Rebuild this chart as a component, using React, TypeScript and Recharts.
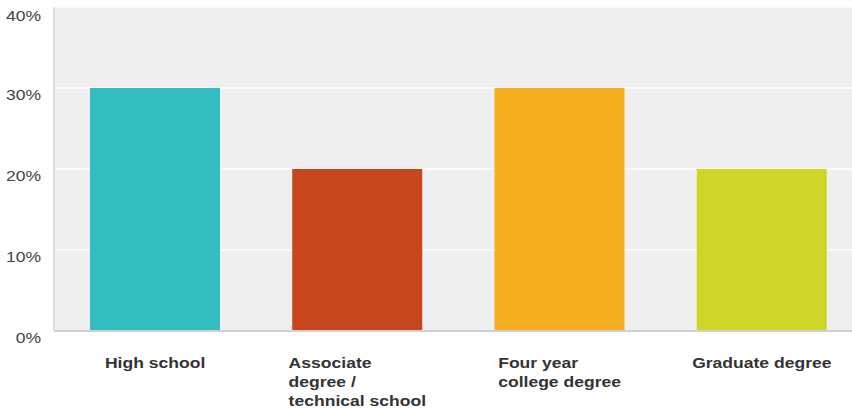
import { BarChart, Bar, Cell, XAxis, YAxis, CartesianGrid } from 'recharts'

const categories = ['High school', 'Associate\ndegree /\ntechnical school', 'Four year\ncollege degree', 'Graduate degree']
const shares = [30, 20, 30, 20]
const yTicks = [0, 10, 20, 30, 40]
const COLORS = ['#33bdbf', '#c8461b', '#f5ae1f', '#cdd627']

const data = categories.map((name, i) => ({ name, value: shares[i] }))

const FONT = "'Liberation Sans', Arial, sans-serif"
const STRETCH = 1.17

let ctx: CanvasRenderingContext2D | null = null
function measure(text: string, font: string) {
  if (!ctx) ctx = document.createElement('canvas').getContext('2d')
  if (!ctx) return text.length * 8
  ctx.font = font
  return ctx.measureText(text).width
}

// left-aligned block of lines, centred under the bar by its longest line
function CategoryTick(props: any) {
  const { x, y, payload } = props
  const lines: string[] = String(payload.value).split('\n')
  const widest = Math.max(...lines.map(l => measure(l, `bold 15px ${FONT}`)))
  const left = x - (widest * STRETCH) / 2
  return (
    <text
      transform={`translate(${left},${y}) scale(${STRETCH},1)`}
      fontFamily={FONT}
      fontSize={15}
      fontWeight="bold"
      fill="#333"
    >
      {lines.map((l, i) => (
        <tspan key={i} x={0} y={29 + i * 19}>{l}</tspan>
      ))}
    </text>
  )
}

function PercentTick(props: any) {
  const { y, payload } = props
  return (
    <text
      transform={`translate(42,${y + 12}) scale(${STRETCH},1)`}
      textAnchor="end"
      fontFamily={FONT}
      fontSize={15}
      fill="#444"
    >
      {`${payload.value}%`}
    </text>
  )
}

export default function App() {
  return (
    <div style={{ position: 'fixed', left: 0, top: 0, width: 852, height: 411, overflow: 'hidden', background: '#fff' }}>
      <div style={{ marginLeft: -1 }}>
        <BarChart width={864} height={411} data={data} margin={{ top: 7, right: 0, bottom: 0, left: 1 }}>
          <CartesianGrid fill="#efefef" stroke="#fafafa" strokeWidth={2} vertical={false} />
          <XAxis
            dataKey="name"
            height={80}
            interval={0}
            tickLine={false}
            axisLine={{ stroke: '#d0d0d0', strokeWidth: 2 }}
            tick={<CategoryTick />}
          />
          <YAxis
            width={54}
            domain={[0, 40]}
            ticks={yTicks}
            tickLine={false}
            axisLine={{ stroke: '#dcdcdc', strokeWidth: 2 }}
            tick={<PercentTick />}
          />
          <Bar dataKey="value" barSize={130} isAnimationActive={false}>
            {data.map((_, i) => (
              <Cell key={`cell-${i}`} fill={COLORS[i % COLORS.length]} />
            ))}
          </Bar>
        </BarChart>
      </div>
    </div>
  )
}
